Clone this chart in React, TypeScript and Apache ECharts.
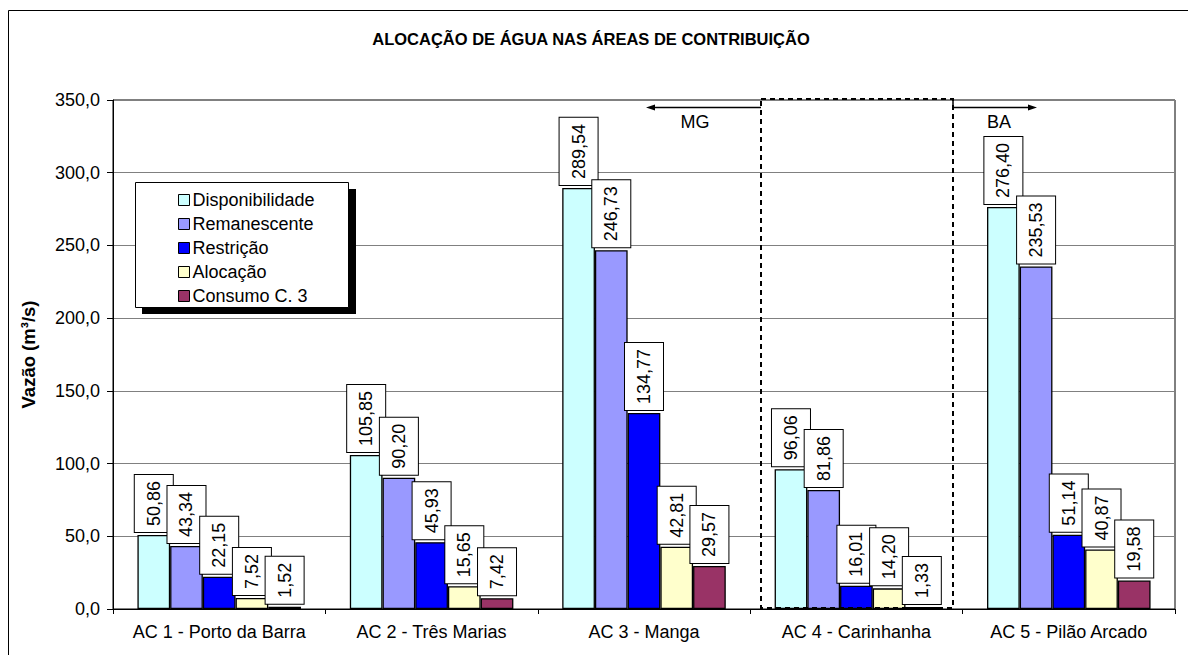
import React, { useEffect, useRef } from "react";
import * as echarts from "echarts";

const categories = [
  "AC 1 - Porto da Barra",
  "AC 2 - Três Marias",
  "AC 3 - Manga",
  "AC 4 - Carinhanha",
  "AC 5 - Pilão Arcado",
];
const seriesNames = ["Disponibilidade", "Remanescente", "Restrição", "Alocação", "Consumo C. 3"];
const seriesColors = ["#CCFFFF", "#9999FF", "#0000FF", "#FFFFCC", "#993366"];
const disponibilidade = [50.86, 105.85, 289.54, 96.06, 276.4];
const remanescente = [43.34, 90.2, 246.73, 81.86, 235.53];
const restricao = [22.15, 45.93, 134.77, 16.01, 51.14];
const alocacao = [7.52, 15.65, 42.81, 14.2, 40.87];
const consumo = [1.52, 7.42, 29.57, 1.33, 19.58];
const seriesValues = [disponibilidade, remanescente, restricao, alocacao, consumo];
const title = "ALOCAÇÃO DE ÁGUA NAS ÁREAS DE CONTRIBUIÇÃO";
const yAxisName = "Vazão (m³/s)";

const FONT = "'Liberation Sans', Arial, sans-serif";

export default function App() {
  const ref = useRef<HTMLDivElement>(null);
  useEffect(() => {
    if (!ref.current) return;
    const chart = echarts.init(ref.current, null, { renderer: "svg" });
    const series = seriesNames.map((name, i) => ({
      name,
      type: "bar",
      data: seriesValues[i],
      barGap: "0%",
      barCategoryGap: "23%",
      itemStyle: { color: seriesColors[i], borderColor: "#000", borderWidth: 1.3 },
      label: {
        show: true,
        position: "top",
        distance: 3,
        rotate: 90,
        align: "left",
        verticalAlign: "middle",
        fontFamily: FONT,
        fontSize: 18,
        lineHeight: 18,
        color: "#000",
        backgroundColor: "#fff",
        borderColor: "#000",
        borderWidth: 1,
        padding: [10, 6, 10, 6],
        formatter: (p: any) => Number(p.value).toFixed(2).replace(".", ","),
      },
    }));
    const option: any = {
      animation: false,
      backgroundColor: "#fff",
      title: {
        text: title,
        left: 586,
        textAlign: "center",
        top: 25,
        textStyle: { fontFamily: FONT, fontSize: 16.5, fontWeight: "bold", color: "#000" },
      },
      legend: {
        orient: "vertical",
        left: 173,
        top: 185,
        z: 30,
        itemWidth: 11,
        itemHeight: 11,
        itemGap: 4,
        icon: "rect",
        data: seriesNames,
        textStyle: { fontFamily: FONT, fontSize: 18, lineHeight: 20, color: "#000", padding: [0, 0, 0, -2] },
        itemStyle: { borderColor: "#000", borderWidth: 1 },
      },
      grid: {
        left: 113,
        right: 13,
        top: 100,
        bottom: 46,
        show: true,
        borderColor: "#000",
        borderWidth: 1,
        backgroundColor: "transparent",
      },
      xAxis: {
        type: "category",
        data: categories,
        axisLine: { lineStyle: { color: "#000", width: 1 } },
        axisTick: { show: true, length: 5, lineStyle: { color: "#000" } },
        axisLabel: { interval: 0, margin: 14, fontFamily: FONT, fontSize: 18, color: "#000" },
      },
      yAxis: {
        type: "value",
        min: 0,
        max: 350,
        interval: 50,
        name: yAxisName,
        nameLocation: "middle",
        nameGap: 75,
        nameTextStyle: { fontFamily: FONT, fontSize: 18.5, fontWeight: "bold", color: "#000" },
        axisLine: { show: true, lineStyle: { color: "#000", width: 1 } },
        axisTick: { show: true, length: 6, lineStyle: { color: "#000" } },
        axisLabel: {
          margin: 13,
          fontFamily: FONT,
          fontSize: 18,
          color: "#000",
          formatter: (v: number) => v.toFixed(1).replace(".", ","),
        },
        splitLine: { show: true, lineStyle: { color: "#808080", width: 1 } },
      },
      graphic: [
        {
          type: "rect",
          z: 1,
          silent: true,
          shape: { x: 8.5, y: 10.5, width: 1250, height: 700 },
          style: { fill: "none", stroke: "#000", lineWidth: 1 },
        },
        {
          type: "rect",
          z: 20,
          silent: true,
          shape: { x: 142, y: 189, width: 214, height: 125 },
          style: { fill: "#000" },
        },
        {
          type: "rect",
          z: 21,
          silent: true,
          shape: { x: 135.5, y: 182.5, width: 213, height: 125 },
          style: { fill: "#fff", stroke: "#000", lineWidth: 1 },
        },
        {
          type: "rect",
          z: 15,
          silent: true,
          shape: { x: 761, y: 99, width: 192, height: 509 },
          style: { fill: "none", stroke: "#000", lineWidth: 2, lineDash: [5, 4] },
        },
        {
          type: "line",
          z: 15,
          silent: true,
          shape: { x1: 761, y1: 107.5, x2: 652, y2: 107.5 },
          style: { stroke: "#000", lineWidth: 1.5 },
        },
        {
          type: "polygon",
          z: 15,
          silent: true,
          shape: { points: [[646, 107.5], [655, 104.5], [655, 110.5]] },
          style: { fill: "#000" },
        },
        {
          type: "polyline",
          z: 15,
          silent: true,
          shape: { points: [[953, 100], [953, 107.5], [1030, 107.5]] },
          style: { stroke: "#000", lineWidth: 1.5, fill: "none" },
        },
        {
          type: "polygon",
          z: 15,
          silent: true,
          shape: { points: [[1037, 107.5], [1028, 104.5], [1028, 110.5]] },
          style: { fill: "#000" },
        },
        {
          type: "text",
          z: 15,
          silent: true,
          x: 695,
          y: 122,
          style: {
            text: "MG",
            fill: "#000",
            font: `18px ${FONT}`,
            textAlign: "center",
            textVerticalAlign: "middle",
          },
        },
        {
          type: "text",
          z: 15,
          silent: true,
          x: 999,
          y: 122,
          style: {
            text: "BA",
            fill: "#000",
            font: `18px ${FONT}`,
            textAlign: "center",
            textVerticalAlign: "middle",
          },
        },
      ],
      series,
    };
    chart.setOption(option);
    return () => chart.dispose();
  }, []);
  return (
    <div
      ref={ref}
      style={{ position: "absolute", left: 0, top: 0, width: 1188, height: 655, background: "#fff" }}
    />
  );
}
